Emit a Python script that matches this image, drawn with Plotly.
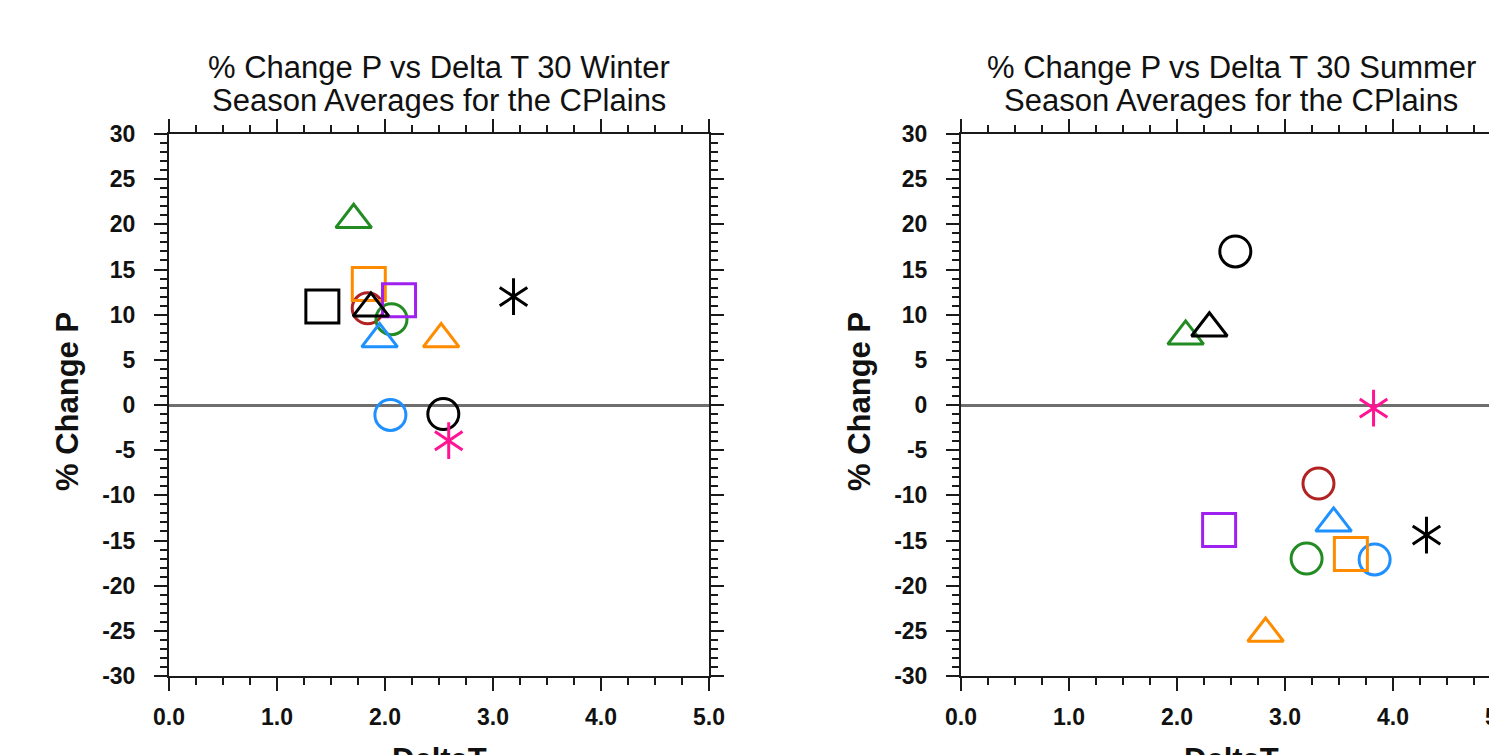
import plotly.graph_objects as go

# ---- data ----
models = ["M01", "M02", "M03", "M04", "M05", "M06", "M07",
          "M08", "M09", "M10", "M11", "M12", "M13"]
colors = ["#B22222", "#228B22", "#1E90FF", "#000000", "#FF8C00", "#A020F0", "#000000",
          "#228B22", "#1E90FF", "#FF8C00", "#000000", "#FF1493", "#000000"]
symbols = ["circle", "circle", "circle", "circle", "square", "square", "square",
           "triangle", "triangle", "triangle", "triangle", "asterisk", "asterisk"]

winter_dT = [1.84, 2.06, 2.05, 2.54, 1.85, 2.13, 1.42, 1.71, 1.95, 2.52, 1.87, 2.59, 3.19]
winter_dP = [10.7, 9.5, -1.1, -1.0, 13.4, 11.6, 10.9, 20.5, 7.3, 7.3, 10.7, -3.95, 12.0]

summer_dT = [3.31, 3.20, 3.83, 2.54, 3.61, 2.39, None, 2.08, 3.45, 2.82, 2.30, 3.82, 4.31]
summer_dP = [-8.7, -17.0, -17.1, 17.0, -16.5, -13.85, None, 7.6, -13.1, -25.3, 8.5, -0.35, -14.4]

titles = [["% Change P vs Delta T 30 Winter", "Season Averages for the CPlains"],
          ["% Change P vs Delta T 30 Summer", "Season Averages for the CPlains"]]
x_title = "DeltaT"
y_title = "% Change P"
x_ticks = [0, 1, 2, 3, 4, 5]
y_ticks = [-30, -25, -20, -15, -10, -5, 0, 5, 10, 15, 20, 25, 30]

# ---- layout geometry (pixels) ----
W, H = 1560, 800
panels_px = [(169, 709), (961, 1501)]
top_px, bot_px = 134, 676
FONT = "Liberation Sans, Arial, Helvetica, sans-serif"

fig = go.Figure()

marker_style = {
    "circle": ("circle-open", 31),
    "square": ("square-open", 33),
    "triangle": ("triangle-up-open", 31),
}

for p, (xs, ys) in enumerate([(winter_dT, winter_dP), (summer_dT, summer_dP)]):
    xa = "x" if p == 0 else "x2"
    ya = "y" if p == 0 else "y2"
    for i, name in enumerate(models):
        if xs[i] is None:
            continue
        sym = symbols[i]
        if sym == "asterisk":
            parts = [("y-up-open", 23), ("y-down-open", 23)]
        else:
            parts = [marker_style[sym]]
        for s, sz in parts:
            fig.add_trace(go.Scatter(
                x=[xs[i]], y=[ys[i]], mode="markers", name=name,
                xaxis=xa, yaxis=ya, showlegend=False, cliponaxis=False,
                marker=dict(symbol=s, size=sz, color=colors[i],
                            line=dict(color=colors[i], width=3)),
            ))

axis_common = dict(
    showgrid=False, showline=True, linecolor="#1a1a1a", linewidth=2,
    mirror="allticks", ticks="outside", ticklen=13, tickwidth=2, tickcolor="#1a1a1a",
    automargin=False,
)

yd = [1 - bot_px / H, 1 - top_px / H]
for p, (l, r) in enumerate(panels_px):
    sfx = "" if p == 0 else "2"
    fig.layout["xaxis" + sfx] = dict(
        axis_common, domain=[l / W, r / W], range=[0, 5], anchor="y" + sfx,
        tickvals=x_ticks, ticktext=[f"<b>{v:.1f}</b>" for v in x_ticks],
        tickfont=dict(family=FONT, size=23, color="#111"),
        minor=dict(dtick=0.25, ticklen=7, tickwidth=1.5, tickcolor="#1a1a1a", ticks="outside"),
        zeroline=False, ticklabelstandoff=6,
    )
    fig.layout["yaxis" + sfx] = dict(
        axis_common, domain=yd, range=[-30, 30], anchor="x" + sfx,
        tickvals=y_ticks, ticktext=[f"<b>{v}</b>" for v in y_ticks],
        tickfont=dict(family=FONT, size=23, color="#111"),
        minor=dict(dtick=1, ticklen=7, tickwidth=1.5, tickcolor="#1a1a1a", ticks="outside"),
        zeroline=True, zerolinecolor="#6e6e6e", zerolinewidth=2.5,
        ticklabelstandoff=14,
    )
    cx = (l + r) / 2 / W
    fig.add_annotation(x=cx, y=1 - 68 / H, xref="paper", yref="paper", text=titles[p][0],
                       showarrow=False, xanchor="center", yanchor="middle",
                       font=dict(family=FONT, size=31, color="#111"))
    fig.add_annotation(x=cx, y=1 - 100 / H, xref="paper", yref="paper", text=titles[p][1],
                       showarrow=False, xanchor="center", yanchor="middle",
                       font=dict(family=FONT, size=31, color="#111"))
    fig.add_annotation(x=cx, y=1 - 759 / H, xref="paper", yref="paper", text="<b>" + x_title + "</b>",
                       showarrow=False, xanchor="center", yanchor="middle",
                       font=dict(family=FONT, size=31, color="#111"))
    fig.add_annotation(x=(l - 101) / W, y=1 - 402 / H, xref="paper", yref="paper",
                       text="<b>" + y_title + "</b>", textangle=-90,
                       showarrow=False, xanchor="center", yanchor="middle",
                       font=dict(family=FONT, size=31, color="#111"))

fig.update_layout(
    width=W, height=H, margin=dict(l=0, r=0, t=0, b=0),
    paper_bgcolor="white", plot_bgcolor="white", showlegend=False,
    template="none",
)

fig.write_html("out.html",
               post_script="document.documentElement.style.overflow='hidden';"
                           "document.body.style.overflow='hidden';"
                           "document.body.style.margin='0';")
